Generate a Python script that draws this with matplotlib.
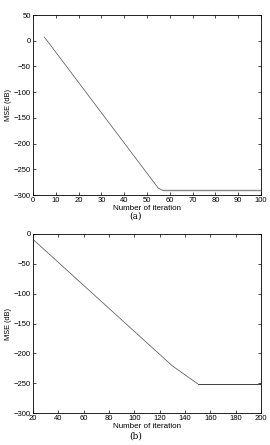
import matplotlib
matplotlib.use("Agg")
import matplotlib.pyplot as plt

plt.rcParams['font.family'] = ['Liberation Sans', 'DejaVu Sans']

# (a)
xa = [5, 55, 57, 100]
ya = [7, -287, -291, -291]
# (b)
xb = [20, 130, 150, 200]
yb = [-9, -221, -251, -251]

fig = plt.figure(figsize=(2.7, 4.45), dpi=100)
W, H = 270, 445

def make_ax(l, t, r, b):
    return fig.add_axes([l / W, 1 - b / H, (r - l) / W, (b - t) / H])

ax1 = make_ax(33, 15, 261, 195)
ax2 = make_ax(33, 234, 261, 413)

for ax in (ax1, ax2):
    ax.tick_params(direction='in', top=True, right=True, labelsize=5.5, length=2.5, width=0.5, pad=1.5)
    for s in ax.spines.values():
        s.set_linewidth(0.6)
    ax.set_xlabel('Number of iteration', fontsize=5.8, labelpad=1)
    ax.set_ylabel('MSE (dB)', fontsize=5.3, labelpad=1)

ax1.plot(xa[:3], ya[:3], color='#666666', lw=0.6)
ax1.plot(xa[2:], ya[2:], color='#888888', lw=1.0)
ax1.set_xlim(0, 100)
ax1.set_ylim(-300, 50)
ax1.set_xticks(range(0, 101, 10))
ax1.set_yticks(range(-300, 51, 50))

ax2.plot(xb[:3], yb[:3], color='#666666', lw=0.6)
ax2.plot(xb[2:], yb[2:], color='#222222', lw=0.6)
ax2.set_xlim(20, 200)
ax2.set_ylim(-300, 0)
ax2.set_xticks(range(20, 201, 20))
ax2.set_yticks(range(-300, 1, 50))

fig.text(136 / W, 1 - 216 / H, '(a)', ha='center', va='center', fontsize=6.5, family='DejaVu Serif')
fig.text(136 / W, 1 - 436 / H, '(b)', ha='center', va='center', fontsize=6.5, family='DejaVu Serif')

fig.savefig('out.png', dpi=100)
